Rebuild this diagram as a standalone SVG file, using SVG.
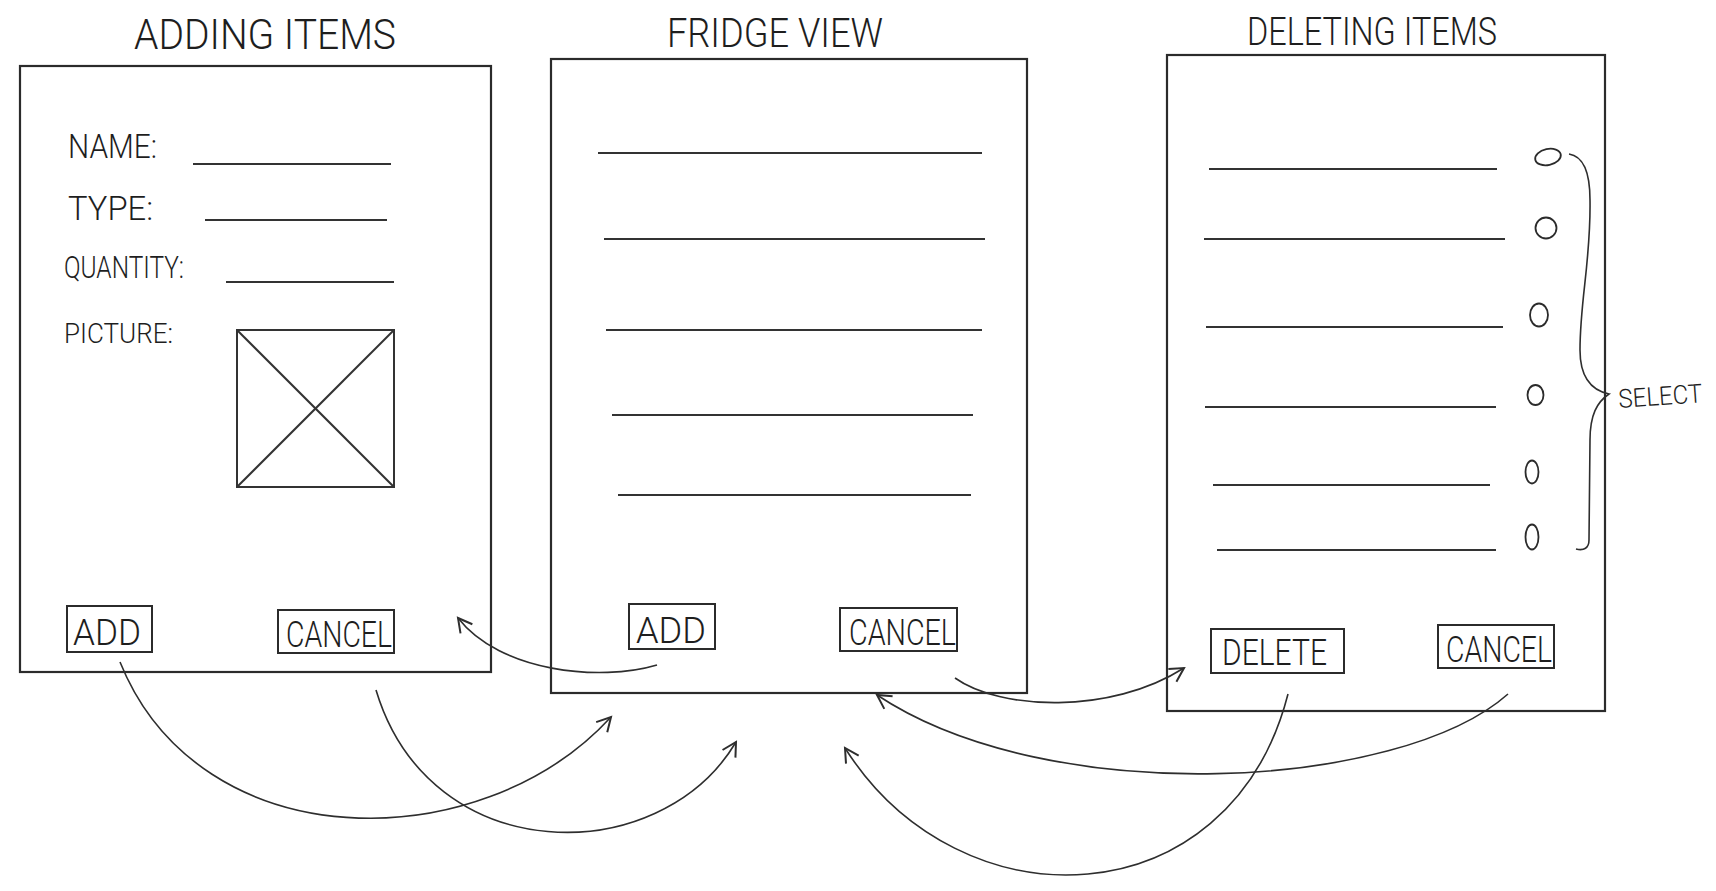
<svg xmlns="http://www.w3.org/2000/svg" width="1716" height="891" viewBox="0 0 1716 891">
<style>
.frame{fill:none;stroke:#2b2b2b;stroke-width:2.2}
.ln{fill:none;stroke:#333;stroke-width:2}
.btn{fill:none;stroke:#2b2b2b;stroke-width:2}
.t{font-family:Roboto,"Liberation Sans",Arial,sans-serif;font-weight:300;fill:#1e1e1e}
.conn{fill:none;stroke:#2e2e2e;stroke-width:1.6}
.radio{fill:none;stroke:#2b2b2b;stroke-width:1.8}
</style>
<defs>
<marker id="arr" markerUnits="userSpaceOnUse" markerWidth="20" markerHeight="20" refX="0" refY="0" viewBox="-14 -8 16 16" orient="auto">
<path d="M-11,-6 L0,0 L-11,6" fill="none" stroke="#2e2e2e" stroke-width="1.6"/>
</marker>
</defs>
<rect width="1716" height="891" fill="#fff"/>

<g id="adding-items">
<text class="t" x="134" y="49" font-size="42" textLength="262" lengthAdjust="spacingAndGlyphs">ADDING  ITEMS</text>
<rect class="frame" x="20" y="66" width="471" height="606"/>
<text class="t" x="68" y="158" font-size="34" textLength="89" lengthAdjust="spacingAndGlyphs">NAME:</text>
<line class="ln" x1="193" y1="164" x2="391" y2="164"/>
<text class="t" x="68" y="220" font-size="34" textLength="85" lengthAdjust="spacingAndGlyphs">TYPE:</text>
<line class="ln" x1="205" y1="220" x2="387" y2="220"/>
<text class="t" x="64" y="278" font-size="31" textLength="120" lengthAdjust="spacingAndGlyphs">QUANTITY:</text>
<line class="ln" x1="226" y1="282" x2="394" y2="282"/>
<text class="t" x="64" y="343" font-size="27" textLength="109" lengthAdjust="spacingAndGlyphs">PICTURE:</text>
<g id="picture-placeholder">
<rect class="ln" x="237" y="330" width="157" height="157"/>
<line class="ln" x1="237" y1="330" x2="394" y2="487"/>
<line class="ln" x1="394" y1="330" x2="237" y2="487"/>
</g>
<g id="add-btn-1">
<rect class="btn" x="67" y="606" width="85" height="46"/>
<text class="t" x="73" y="645" font-size="36" textLength="68" lengthAdjust="spacingAndGlyphs">ADD</text>
</g>
<g id="cancel-btn-1">
<rect class="btn" x="278" y="610" width="116" height="43"/>
<text class="t" x="286" y="647" font-size="36" textLength="106" lengthAdjust="spacingAndGlyphs">CANCEL</text>
</g>
</g>

<g id="fridge-view">
<text class="t" x="667" y="47" font-size="40" textLength="216" lengthAdjust="spacingAndGlyphs">FRIDGE  VIEW</text>
<rect class="frame" x="551" y="59" width="476" height="634"/>
<line class="ln" x1="598" y1="153" x2="982" y2="153"/>
<line class="ln" x1="604" y1="239" x2="985" y2="239"/>
<line class="ln" x1="606" y1="330" x2="982" y2="330"/>
<line class="ln" x1="612" y1="415" x2="973" y2="415"/>
<line class="ln" x1="618" y1="495" x2="971" y2="495"/>
<g id="add-btn-2">
<rect class="btn" x="629" y="604" width="86" height="45"/>
<text class="t" x="636" y="643" font-size="36" textLength="70" lengthAdjust="spacingAndGlyphs">ADD</text>
</g>
<g id="cancel-btn-2">
<rect class="btn" x="840" y="608" width="117" height="43"/>
<text class="t" x="849" y="645" font-size="36" textLength="107" lengthAdjust="spacingAndGlyphs">CANCEL</text>
</g>
</g>

<g id="deleting-items">
<text class="t" x="1247" y="45" font-size="38" textLength="250" lengthAdjust="spacingAndGlyphs">DELETING  ITEMS</text>
<rect class="frame" x="1167" y="55" width="438" height="656"/>
<line class="ln" x1="1209" y1="169" x2="1497" y2="169"/>
<line class="ln" x1="1204" y1="239" x2="1505" y2="239"/>
<line class="ln" x1="1206" y1="327" x2="1503" y2="327"/>
<line class="ln" x1="1205" y1="407" x2="1496" y2="407"/>
<line class="ln" x1="1213" y1="485" x2="1490" y2="485"/>
<line class="ln" x1="1217" y1="550" x2="1496" y2="550"/>
<ellipse class="radio" cx="1548" cy="157" rx="13" ry="8" transform="rotate(-12 1548 157)"/>
<ellipse class="radio" cx="1546" cy="228" rx="10.5" ry="10.5"/>
<ellipse class="radio" cx="1539" cy="315" rx="9" ry="11.5"/>
<ellipse class="radio" cx="1535.5" cy="395" rx="8" ry="10"/>
<ellipse class="radio" cx="1532" cy="472" rx="6.5" ry="11.5"/>
<ellipse class="radio" cx="1532" cy="537" rx="6.5" ry="12.5"/>
<g id="select-brace">
<path class="conn" d="M1569,154 C1582,156 1590,170 1590,200 C1591,260 1580,300 1580,350 C1580,375 1590,390 1609,394 C1597,402 1590,415 1590,440 L1589,540 C1589,548 1584,551 1576,549"/>
<text class="t" x="1619" y="408" font-size="26" textLength="84" lengthAdjust="spacingAndGlyphs" transform="rotate(-4 1619 408)">SELECT</text>
</g>
<g id="delete-btn">
<rect class="btn" x="1211" y="629" width="133" height="44"/>
<text class="t" x="1222" y="665" font-size="36" textLength="105" lengthAdjust="spacingAndGlyphs">DELETE</text>
</g>
<g id="cancel-btn-3">
<rect class="btn" x="1438" y="625" width="116" height="43"/>
<text class="t" x="1446" y="662" font-size="36" textLength="106" lengthAdjust="spacingAndGlyphs">CANCEL</text>
</g>
</g>

<g id="connectors">
<path class="conn" marker-end="url(#arr)" d="M657,665 C600,682 500,672 458,618"/>
<path class="conn" marker-end="url(#arr)" d="M120,662 C200,860 480,860 611,717"/>
<path class="conn" marker-end="url(#arr)" d="M376,690 C430,870 660,870 736,742"/>
<path class="conn" marker-end="url(#arr)" d="M955,678 C1000,710 1110,715 1184,668"/>
<path class="conn" marker-end="url(#arr)" d="M1508,694 C1400,790 1050,810 877,695"/>
<path class="conn" marker-end="url(#arr)" d="M1288,694 C1230,920 960,930 845,748"/>
</g>
</svg>
